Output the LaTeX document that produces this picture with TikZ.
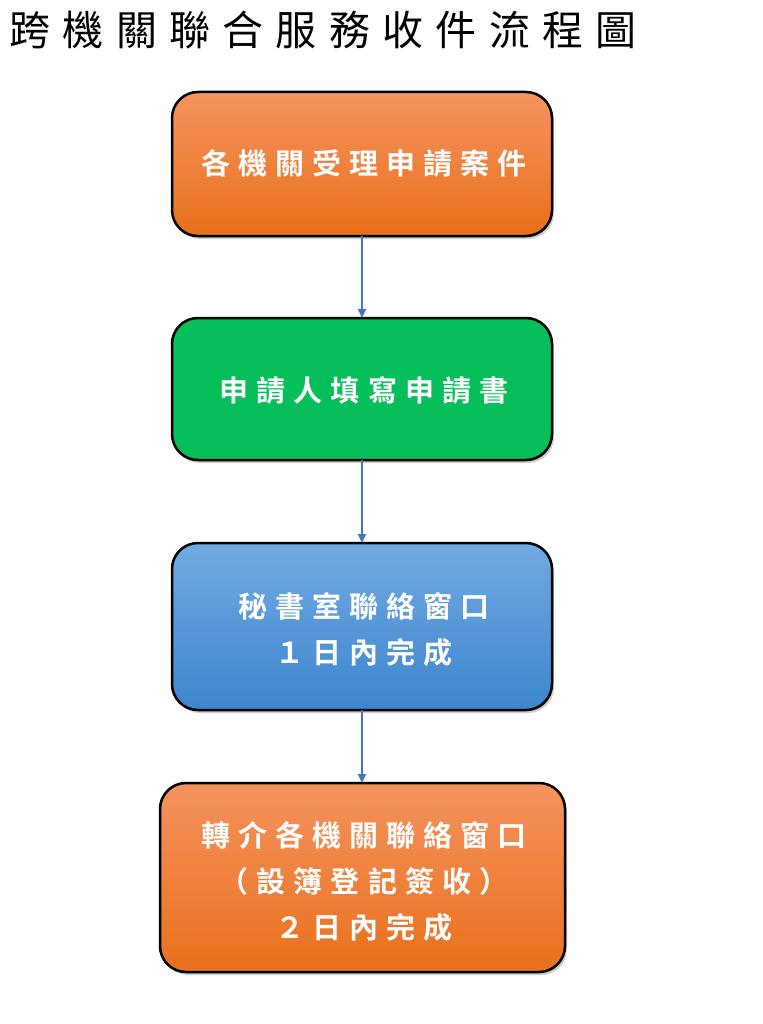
\documentclass[tikz,border=0pt]{standalone}
\usepackage{fontspec}
\newfontfamily\cjk[LetterSpace=30]{Noto Sans CJK TC}
\newfontfamily\cjkb[LetterSpace=28]{Noto Sans CJK TC Bold}
\usetikzlibrary{shadows,arrows.meta}
\definecolor{orT}{HTML}{F5935F}
\definecolor{orB}{HTML}{E8701C}
\definecolor{grn}{HTML}{07BF5A}
\definecolor{blT}{HTML}{72AAE2}
\definecolor{blB}{HTML}{3D86CE}
\definecolor{arr}{HTML}{4472C4}
\tikzset{
 box/.style={draw=black,line width=2.5pt,rounded corners=26pt,drop shadow={shadow xshift=2pt,shadow yshift=-3pt,opacity=.4}},
 lbl/.style={text=white,font=\cjkb\fontsize{29}{46}\selectfont,align=center},
 conn/.style={draw=arr,line width=1.6pt,-{Triangle[length=9pt,width=8pt]}}
}
\begin{document}
\begin{tikzpicture}[x=1pt,y=-1pt]
\useasboundingbox (0,0) rectangle (762,1024);
\node[anchor=west,font=\cjk\fontsize{41}{44}\selectfont] (t) at (6,30) {跨機關聯合服務收件流程圖};
\path[box,top color=orT,bottom color=orB] (172,92) rectangle (552,236);
\path[box,fill=grn] (172,318) rectangle (552,460);
\path[box,top color=blT,bottom color=blB] (172,543) rectangle (552,710);
\path[box,top color=orT,bottom color=orB] (160,783) rectangle (565,972);
\coordinate (b1) at (362,236); \coordinate (t2) at (362,318);
\coordinate (b2) at (362,460); \coordinate (t3) at (362,543);
\coordinate (b3) at (362,710); \coordinate (t4) at (362,783);
\node[lbl] (n1) at (364,163) {各機關受理申請案件};
\node[lbl] (n2) at (364,390) {申請人填寫申請書};
\node[lbl] (n3) at (364,629) {秘書室聯絡窗口\\１日內完成};
\node[lbl] (n4) at (364,881) {轉介各機關聯絡窗口\\（設簿登記簽收）\\２日內完成};
\draw[conn] (b1) -- (t2);
\draw[conn] (b2) -- (t3);
\draw[conn] (b3) -- (t4);
\end{tikzpicture}
\end{document}
